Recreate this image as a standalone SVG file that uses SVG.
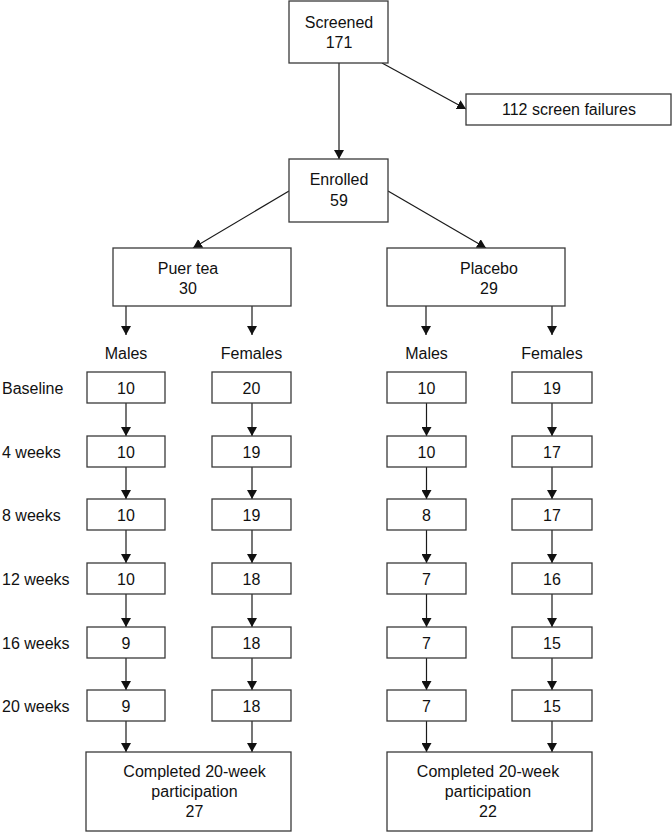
<svg xmlns="http://www.w3.org/2000/svg" width="672" height="832" viewBox="0 0 672 832">
<style>
.box{fill:#fff;stroke:#3a3a3a;stroke-width:1.3}
.ln{stroke:#1a1a1a;stroke-width:1.2;fill:none}
text{font-family:"Liberation Sans",Arial,sans-serif;font-size:16px;fill:#111}
.c{text-anchor:middle}
</style>
<defs>
<marker id="ah" viewBox="0 0 9 10" refX="9" refY="5" markerWidth="9" markerHeight="10" markerUnits="userSpaceOnUse" orient="auto">
<path d="M0,0 L9,5 L0,10 z" fill="#111"/>
</marker>
</defs>
<g id="connectors">
<line class="ln" x1="339" y1="63" x2="339" y2="159" marker-end="url(#ah)"/>
<line class="ln" x1="382" y1="63" x2="466" y2="109" marker-end="url(#ah)"/>
<line class="ln" x1="289" y1="191" x2="193" y2="248" marker-end="url(#ah)"/>
<line class="ln" x1="388" y1="191" x2="486" y2="248" marker-end="url(#ah)"/>
<line class="ln" x1="126" y1="306" x2="126" y2="335" marker-end="url(#ah)"/>
<line class="ln" x1="252" y1="306" x2="252" y2="335" marker-end="url(#ah)"/>
<line class="ln" x1="426" y1="306" x2="426" y2="335" marker-end="url(#ah)"/>
<line class="ln" x1="552" y1="306" x2="552" y2="335" marker-end="url(#ah)"/>
<!-- Puer males -->
<line class="ln" x1="126" y1="403" x2="126" y2="436" marker-end="url(#ah)"/>
<line class="ln" x1="126" y1="467" x2="126" y2="499" marker-end="url(#ah)"/>
<line class="ln" x1="126" y1="530" x2="126" y2="563" marker-end="url(#ah)"/>
<line class="ln" x1="126" y1="594" x2="126" y2="627" marker-end="url(#ah)"/>
<line class="ln" x1="126" y1="658" x2="126" y2="690" marker-end="url(#ah)"/>
<line class="ln" x1="126" y1="721" x2="126" y2="752" marker-end="url(#ah)"/>
<!-- Puer females -->
<line class="ln" x1="252" y1="403" x2="252" y2="436" marker-end="url(#ah)"/>
<line class="ln" x1="252" y1="467" x2="252" y2="499" marker-end="url(#ah)"/>
<line class="ln" x1="252" y1="530" x2="252" y2="563" marker-end="url(#ah)"/>
<line class="ln" x1="252" y1="594" x2="252" y2="627" marker-end="url(#ah)"/>
<line class="ln" x1="252" y1="658" x2="252" y2="690" marker-end="url(#ah)"/>
<line class="ln" x1="252" y1="721" x2="252" y2="752" marker-end="url(#ah)"/>
<!-- Placebo males -->
<line class="ln" x1="426.5" y1="403" x2="426.5" y2="436" marker-end="url(#ah)"/>
<line class="ln" x1="426.5" y1="467" x2="426.5" y2="499" marker-end="url(#ah)"/>
<line class="ln" x1="426.5" y1="530" x2="426.5" y2="563" marker-end="url(#ah)"/>
<line class="ln" x1="426.5" y1="594" x2="426.5" y2="627" marker-end="url(#ah)"/>
<line class="ln" x1="426.5" y1="658" x2="426.5" y2="690" marker-end="url(#ah)"/>
<line class="ln" x1="426.5" y1="721" x2="426.5" y2="752" marker-end="url(#ah)"/>
<!-- Placebo females -->
<line class="ln" x1="552" y1="403" x2="552" y2="436" marker-end="url(#ah)"/>
<line class="ln" x1="552" y1="467" x2="552" y2="499" marker-end="url(#ah)"/>
<line class="ln" x1="552" y1="530" x2="552" y2="563" marker-end="url(#ah)"/>
<line class="ln" x1="552" y1="594" x2="552" y2="627" marker-end="url(#ah)"/>
<line class="ln" x1="552" y1="658" x2="552" y2="690" marker-end="url(#ah)"/>
<line class="ln" x1="552" y1="721" x2="552" y2="752" marker-end="url(#ah)"/>
</g>
<g id="screened"><rect class="box" x="289" y="1" width="99" height="62"/><text class="c" x="339" y="27.5">Screened</text><text class="c" x="339" y="48">171</text></g>
<g id="failures"><rect class="box" x="466" y="94" width="205" height="31"/><text class="c" x="569" y="115">112 screen failures</text></g>
<g id="enrolled"><rect class="box" x="289" y="159" width="99" height="63"/><text class="c" x="339" y="185">Enrolled</text><text class="c" x="339" y="205.5">59</text></g>
<g id="puer"><rect class="box" x="113" y="248" width="178" height="58"/><text class="c" x="188" y="274">Puer tea</text><text class="c" x="188" y="294">30</text></g>
<g id="placebo"><rect class="box" x="387" y="248" width="178" height="58"/><text class="c" x="489" y="274">Placebo</text><text class="c" x="489" y="294">29</text></g>
<g id="labels">
<text class="c" x="126" y="359">Males</text>
<text class="c" x="251.5" y="359">Females</text>
<text class="c" x="426.5" y="359">Males</text>
<text class="c" x="552" y="359">Females</text>
<text x="2" y="394">Baseline</text>
<text x="2" y="458">4 weeks</text>
<text x="2" y="521">8 weeks</text>
<text x="2" y="585">12 weeks</text>
<text x="2" y="649">16 weeks</text>
<text x="2" y="712">20 weeks</text>
</g>
<g id="pm0"><rect class="box" x="87" y="372" width="78" height="31"/><text class="c" x="126" y="394">10</text></g>
<g id="pm1"><rect class="box" x="87" y="436" width="78" height="31"/><text class="c" x="126" y="458">10</text></g>
<g id="pm2"><rect class="box" x="87" y="499" width="78" height="31"/><text class="c" x="126" y="521">10</text></g>
<g id="pm3"><rect class="box" x="87" y="563" width="78" height="31"/><text class="c" x="126" y="585">10</text></g>
<g id="pm4"><rect class="box" x="87" y="627" width="78" height="31"/><text class="c" x="126" y="649">9</text></g>
<g id="pm5"><rect class="box" x="87" y="690" width="78" height="31"/><text class="c" x="126" y="712">9</text></g>
<g id="pf0"><rect class="box" x="212" y="372" width="79" height="31"/><text class="c" x="251.5" y="394">20</text></g>
<g id="pf1"><rect class="box" x="212" y="436" width="79" height="31"/><text class="c" x="251.5" y="458">19</text></g>
<g id="pf2"><rect class="box" x="212" y="499" width="79" height="31"/><text class="c" x="251.5" y="521">19</text></g>
<g id="pf3"><rect class="box" x="212" y="563" width="79" height="31"/><text class="c" x="251.5" y="585">18</text></g>
<g id="pf4"><rect class="box" x="212" y="627" width="79" height="31"/><text class="c" x="251.5" y="649">18</text></g>
<g id="pf5"><rect class="box" x="212" y="690" width="79" height="31"/><text class="c" x="251.5" y="712">18</text></g>
<g id="qm0"><rect class="box" x="387" y="372" width="79" height="31"/><text class="c" x="426.5" y="394">10</text></g>
<g id="qm1"><rect class="box" x="387" y="436" width="79" height="31"/><text class="c" x="426.5" y="458">10</text></g>
<g id="qm2"><rect class="box" x="387" y="499" width="79" height="31"/><text class="c" x="426.5" y="521">8</text></g>
<g id="qm3"><rect class="box" x="387" y="563" width="79" height="31"/><text class="c" x="426.5" y="585">7</text></g>
<g id="qm4"><rect class="box" x="387" y="627" width="79" height="31"/><text class="c" x="426.5" y="649">7</text></g>
<g id="qm5"><rect class="box" x="387" y="690" width="79" height="31"/><text class="c" x="426.5" y="712">7</text></g>
<g id="qf0"><rect class="box" x="512" y="372" width="80" height="31"/><text class="c" x="552" y="394">19</text></g>
<g id="qf1"><rect class="box" x="512" y="436" width="80" height="31"/><text class="c" x="552" y="458">17</text></g>
<g id="qf2"><rect class="box" x="512" y="499" width="80" height="31"/><text class="c" x="552" y="521">17</text></g>
<g id="qf3"><rect class="box" x="512" y="563" width="80" height="31"/><text class="c" x="552" y="585">16</text></g>
<g id="qf4"><rect class="box" x="512" y="627" width="80" height="31"/><text class="c" x="552" y="649">15</text></g>
<g id="qf5"><rect class="box" x="512" y="690" width="80" height="31"/><text class="c" x="552" y="712">15</text></g>
<g id="puer-completed"><rect class="box" x="86" y="752" width="205" height="79"/><text class="c" x="194.5" y="777">Completed 20-week</text><text class="c" x="194.5" y="797">participation</text><text class="c" x="194.5" y="817">27</text></g>
<g id="placebo-completed"><rect class="box" x="387" y="752" width="205" height="79"/><text class="c" x="488" y="777">Completed 20-week</text><text class="c" x="488" y="797">participation</text><text class="c" x="488" y="817">22</text></g>
</svg>
